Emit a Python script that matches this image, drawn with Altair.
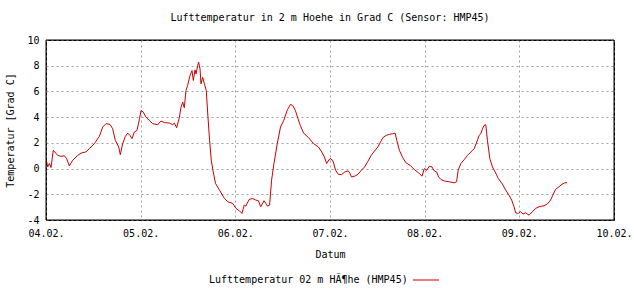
import json
import altair as alt
import pandas as pd

# time in days since 04.02. 00:00
days = [
    0.000, 0.018, 0.035, 0.053, 0.077, 0.123, 0.158, 0.194, 0.218, 0.246,
    0.282, 0.335, 0.370, 0.423, 0.458, 0.511, 0.563, 0.599, 0.634, 0.676,
    0.704, 0.732, 0.768, 0.785, 0.810, 0.838, 0.863, 0.887, 0.908, 0.933,
    0.961, 0.986, 1.004, 1.028, 1.056, 1.092, 1.127, 1.180, 1.215, 1.250,
    1.303, 1.338, 1.356, 1.380, 1.408, 1.426, 1.444, 1.461, 1.479, 1.496,
    1.521, 1.542, 1.556, 1.574, 1.585, 1.602, 1.613, 1.627, 1.637, 1.655,
    1.673,
    1.693, 1.711, 1.728, 1.746, 1.763, 1.791, 1.833, 1.885, 1.920, 1.972,
    2.007, 2.042, 2.070, 2.094, 2.111, 2.146, 2.181, 2.216, 2.244, 2.268,
    2.303, 2.321, 2.338, 2.362, 2.383, 2.408, 2.443, 2.477, 2.512, 2.547,
    2.582, 2.606, 2.634, 2.662, 2.686, 2.721, 2.774, 2.826, 2.878, 2.913,
    2.941, 2.965, 2.990, 3.010, 3.035, 3.059, 3.087, 3.122, 3.157, 3.192,
    3.209, 3.226, 3.261, 3.296, 3.331, 3.366, 3.401, 3.436, 3.470, 3.505,
    3.558, 3.593, 3.628, 3.663, 3.688, 3.705, 3.733, 3.768, 3.804, 3.846,
    3.891, 3.937, 3.972, 3.996, 4.021, 4.049, 4.077, 4.102, 4.126, 4.147,
    4.172, 4.207, 4.260, 4.312, 4.337, 4.354, 4.382, 4.418, 4.453, 4.488,
    4.523, 4.551, 4.575, 4.593, 4.611, 4.628, 4.646, 4.663, 4.688, 4.716,
    4.744, 4.779, 4.821, 4.856, 4.891, 4.919, 4.944, 4.961, 4.989, 5.014,
    5.039, 5.067, 5.102, 5.137, 5.172, 5.207, 5.260, 5.295, 5.330, 5.354,
    5.382, 5.418, 5.453, 5.481, 5.505,
]

temps = [
    0.78, 0.13, 0.40, 0.08, 1.42, 1.03, 0.95, 1.00, 0.78, 0.20,
    0.65, 1.03, 1.20, 1.30, 1.55, 1.94, 2.50, 3.23, 3.49, 3.44,
    3.10, 2.20, 1.68, 1.08, 1.94, 2.50, 2.76, 2.58, 2.33, 2.84,
    2.97, 3.80, 4.52, 4.39, 4.00, 3.75, 3.49, 3.41, 3.70, 3.57,
    3.54, 3.41, 3.54, 3.18, 3.95, 4.78, 5.17, 4.73, 6.07, 6.46,
    7.24, 7.62, 6.85, 7.67, 7.36, 8.01, 8.27, 7.75, 6.59, 7.10,
    6.59,
    6.07, 4.00, 2.20, 0.65, -0.13, -1.16, -1.68, -2.33, -2.58, -2.71,
    -3.10, -3.28, -3.49, -2.84, -2.92, -2.40, -2.33, -2.45, -2.50, -2.97,
    -2.50, -2.71, -2.92, -2.84, -0.90, 0.39, 1.94, 3.23, 3.75, 4.52,
    4.99, 4.91, 4.52, 3.88, 3.36, 2.76, 2.40, 1.94, 1.68, 1.29,
    0.90, 0.39, 0.70, 0.78, 0.52, -0.13, -0.44, -0.47, -0.26, -0.18,
    -0.34, -0.65, -0.59, -0.44, -0.13, 0.13, 0.57, 1.03, 1.37, 1.68,
    2.40, 2.58, 2.66, 2.71, 2.76, 2.20, 1.42, 0.85, 0.44, 0.26,
    -0.08, -0.34, -0.59, 0.00, -0.13, 0.18, 0.13, -0.18, -0.26, -0.65,
    -0.85, -0.96, -1.03, -1.11, -1.03, -0.13, 0.39, 0.70, 1.03, 1.29,
    1.55, 2.07, 2.58, 2.71, 3.10, 3.36, 3.41, 2.20, 0.78, 0.13,
    -0.26, -0.78, -1.21, -1.68, -2.07, -2.45, -2.97, -3.44, -3.49, -3.36,
    -3.54, -3.44, -3.62, -3.36, -3.10, -2.97, -2.89, -2.76, -2.45, -2.07,
    -1.63, -1.42, -1.21, -1.11, -1.09,
]

x_tick_labels = ["04.02.", "05.02.", "06.02.", "07.02.", "08.02.", "09.02.", "10.02."]
y_ticks = [-4, -2, 0, 2, 4, 6, 8, 10]
legend_label = "Lufttemperatur 02 m HÃ¶he (HMP45)"
chart_title = "Lufttemperatur in 2 m Hoehe in Grad C (Sensor: HMP45)"

FONT = "DejaVu Sans Mono"
RED = "#cc0000"
W, H = 568, 180

df = pd.DataFrame({"day": days, "temp": temps})
leg = pd.DataFrame({"label": [legend_label]})

label_expr = json.dumps(x_tick_labels) + "[round(datum.value)]"

line = alt.Chart(df).mark_line(color=RED, strokeWidth=1, clip=True).encode(
    x=alt.X(
        "day:Q",
        scale=alt.Scale(domain=[0, 6], nice=False, zero=False),
        axis=alt.Axis(
            title="Datum",
            values=list(range(len(x_tick_labels))),
            labelExpr=label_expr,
            grid=True,
            ticks=False,
            domain=False,
            labelFlush=False,
            labelOverlap=False,
            labelPadding=8,
            titlePadding=11,
        ),
    ),
    y=alt.Y(
        "temp:Q",
        scale=alt.Scale(domain=[-4, 10], nice=False, zero=False),
        axis=alt.Axis(
            title="Temperatur [Grad C]",
            values=y_ticks,
            labelExpr="'' + datum.value",
            grid=True,
            ticks=False,
            domain=False,
            labelFlush=False,
            labelOverlap=False,
            labelPadding=7,
            titlePadding=11,
        ),
    ),
)

# frame drawn on top so the dashed grid does not break the border
frame = alt.Chart(leg).mark_rect(filled=False, stroke="black", strokeWidth=1).encode(
    x=alt.value(0), x2=alt.value(W), y=alt.value(0), y2=alt.value(H)
)

leg_text = alt.Chart(leg).mark_text(
    align="left", baseline="middle", font=FONT, fontSize=10, color="black"
).encode(text="label:N", x=alt.value(163), y=alt.value(240))

leg_line = alt.Chart(leg).mark_rule(color=RED, strokeWidth=1).encode(
    x=alt.value(367), x2=alt.value(393), y=alt.value(240)
)

chart = (
    alt.layer(line, frame, leg_text, leg_line)
    .properties(
        width=W,
        height=H,
        title=alt.TitleParams(
            chart_title, font=FONT, fontSize=10, fontWeight="normal",
            color="black", anchor="middle", offset=12,
        ),
        autosize=alt.AutoSizeParams(type="none"),
        padding={"left": 46, "top": 40, "right": 20, "bottom": 68},
    )
    .configure(background="white")
    .configure_view(stroke="black", strokeWidth=1)
    .configure_axis(
        labelFont=FONT,
        labelFontSize=10,
        labelColor="black",
        titleFont=FONT,
        titleFontSize=10,
        titleFontWeight="normal",
        titleColor="black",
        gridColor="#a0a0a0",
        gridDash=[2, 3],
        gridWidth=1,
        gridOpacity=1,
    )
)

chart.save("out.html", embed_options={"renderer": "svg", "actions": False})
